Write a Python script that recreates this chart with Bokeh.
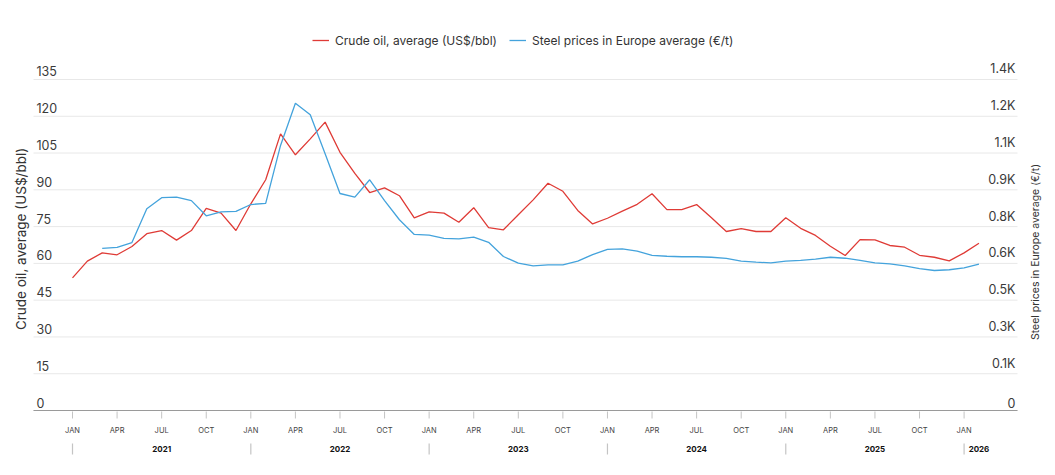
import math
from bokeh.plotting import figure
from bokeh.models import Range1d, Legend, LegendItem
from bokeh.core.properties import value
from bokeh.embed import file_html
from bokeh.resources import INLINE

# ---- data (monthly, Jan 2021 .. Feb 2026) ----
FIRST_YEAR = 2021
MONTHS = list(range(62))
OIL = [54.1, 60.9, 64.3, 63.5, 66.9, 72.1, 73.4, 69.5, 73.4, 82.4, 80.5, 73.4,
       84.3, 94.1, 112.8, 104.3, 110.8, 117.6, 105.3, 96.7, 88.9, 90.8, 87.6, 78.6,
       81.0, 80.5, 76.8, 82.7, 74.6, 73.7, 79.8, 85.9, 92.7, 89.4, 81.6, 76.1,
       78.4, 81.3, 84.1, 88.4, 81.9, 81.9, 84.0, 78.6, 73.0, 74.2, 73.0, 73.0,
       78.6, 74.3, 71.4, 67.0, 63.2, 69.7, 69.6, 67.3, 66.6, 63.3, 62.5, 61.0,
       64.3, 68.2]
NAN = float("nan")
STEEL = [NAN, NAN, 661, 665, 685, 823, 868, 870, 856, 794, 810, 812,
         840, 845, 1081, 1253, 1206, 1047, 885, 870, 941, 856, 778, 718,
         715, 702, 700, 707, 686, 628, 601, 590, 594, 594, 609, 636,
         657, 659, 650, 633, 629, 627, 627, 625, 620, 609, 605, 602,
         609, 612, 617, 625, 621, 612, 602, 598, 590, 579, 571, 574,
         582, 597]

LEFT_TICKS = [0, 15, 30, 45, 60, 75, 90, 105, 120, 135]
LEFT_LABELS = ["0", "15", "30", "45", "60", "75", "90", "105", "120", "135"]
RIGHT_TICKS = [0, 150, 300, 450, 600, 750, 900, 1050, 1200, 1350]
RIGHT_LABELS = ["0", "0.1K", "0.3K", "0.5K", "0.6K", "0.8K", "0.9K", "1.1K", "1.2K", "1.4K"]
QUARTER_NAMES = ["JAN", "APR", "JUL", "OCT"]
YEARS = [2021, 2022, 2023, 2024, 2025, 2026]

OIL_LABEL = "Crude oil, average (US$/bbl)"
STEEL_LABEL = "Steel prices in Europe average (€/t)"

RED = "#df3b36"
BLUE = "#44a3dc"
FONT = "Inter"
TEXT_COLOR = "#333333"

# ---- layout parameters (pixels) ----
W, H = 1055, 475
PX_MONTH = 14.86          # px per month
PX_UNIT = 2.452           # px per US$ on the left scale
X0_PX, Y0_PX = 72, 410    # pixel position of (month 0, value 0)
PLOT_L_PX, PLOT_R_PX = 33, 1017
STEEL_FACTOR = 10

X_START = -X0_PX / PX_MONTH
X_END = X_START + W / PX_MONTH
Y_START = -(H - Y0_PX) / PX_UNIT
Y_END = Y0_PX / PX_UNIT
FRAME_L = X_START + PLOT_L_PX / PX_MONTH
FRAME_R = X_START + PLOT_R_PX / PX_MONTH


def px_down(px):
    """convert a downward pixel distance below the baseline to data units"""
    return -px / PX_UNIT


p = figure(width=W, height=H,
           x_range=Range1d(X_START, X_END), y_range=Range1d(Y_START, Y_END),
           output_backend="svg", toolbar_location=None,
           x_axis_type=None, y_axis_type=None,
           min_border_left=0, min_border_right=0,
           min_border_top=0, min_border_bottom=0,
           outline_line_color=None)
p.extra_y_ranges = {"steel": Range1d(Y_START * STEEL_FACTOR, Y_END * STEEL_FACTOR)}

# horizontal gridlines
n = len(LEFT_TICKS)
p.segment(x0=[FRAME_L] * n, x1=[FRAME_R] * n, y0=LEFT_TICKS, y1=LEFT_TICKS,
          line_color="#e8e8e8", line_width=1)
# baseline
p.segment(x0=[FRAME_L], x1=[FRAME_R], y0=[0], y1=[0], line_color="#9a9a9a", line_width=1)

# y tick labels (above gridlines)
p.text(x=[FRAME_L] * n, y=LEFT_TICKS, text=LEFT_LABELS,
       x_offset=3, y_offset=-3, text_align="left", text_baseline="bottom",
       text_font=value(FONT), text_font_size="12.5px", text_color="#3a3a3a")
p.text(x=[FRAME_R] * len(RIGHT_TICKS), y=RIGHT_TICKS, text=RIGHT_LABELS,
       y_range_name="steel",
       x_offset=-2, y_offset=-3, text_align="right", text_baseline="bottom",
       text_font=value(FONT), text_font_size="12.5px", text_color="#3a3a3a")

# month ticks and labels
last = MONTHS[-1]
q_pos = [m for m in range(0, last + 1) if m % 3 == 0]
q_lab = [QUARTER_NAMES[(m % 12) // 3] for m in q_pos]
p.segment(x0=q_pos, x1=q_pos, y0=[px_down(1)] * len(q_pos), y1=[px_down(8)] * len(q_pos),
          line_color="#c4c4c4", line_width=1)
p.text(x=q_pos, y=[0] * len(q_pos), text=q_lab, y_offset=20,
       text_align="center", text_baseline="middle",
       text_font=value(FONT), text_font_size="7.5px", text_color="#444444")

# year separators and labels
jan_pos = [12 * (y - FIRST_YEAR) for y in YEARS]
year_pos = []
for y in YEARS:
    start = 12 * (y - FIRST_YEAR)
    end = min(start + 11, last) + 1
    year_pos.append((start + end) / 2)
p.segment(x0=jan_pos, x1=jan_pos, y0=[px_down(33)] * len(jan_pos),
          y1=[px_down(44)] * len(jan_pos), line_color="#c4c4c4", line_width=1.2)
p.text(x=year_pos, y=[0] * len(YEARS), text=[str(y) for y in YEARS], y_offset=38,
       text_align="center", text_baseline="middle",
       text_font=value(FONT), text_font_size="8px", text_font_style="bold",
       text_color="#111111")

# axis titles (vertical, bottom-to-top)
mid_left = (LEFT_TICKS[0] + LEFT_TICKS[-1]) / 2
p.text(x=[X_START], y=[mid_left], text=[OIL_LABEL], x_offset=20, y_offset=-6,
       angle=math.pi / 2, text_align="center", text_baseline="middle",
       text_font=value(FONT), text_font_size="13.5px", text_color=TEXT_COLOR)
p.text(x=[X_END], y=[mid_left], text=[STEEL_LABEL], x_offset=-20, y_offset=7,
       angle=math.pi / 2, text_align="center", text_baseline="middle",
       text_font=value(FONT), text_font_size="10.5px", text_color=TEXT_COLOR)

# lines
r_oil = p.line(MONTHS, OIL, line_color=RED, line_width=1.3)
r_steel = p.line(MONTHS, STEEL, y_range_name="steel", line_color=BLUE, line_width=1.3)

# legend (top, inside the full-canvas frame)
legend = Legend(items=[LegendItem(label=OIL_LABEL, renderers=[r_oil]),
                       LegendItem(label=STEEL_LABEL, renderers=[r_steel])],
                orientation="horizontal", location=(312, 425),
                border_line_color=None, background_fill_alpha=0,
                label_text_font=FONT, label_text_font_size="12px",
                label_text_color=TEXT_COLOR, glyph_width=17, glyph_height=20,
                label_height=20, label_standoff=6, spacing=12, padding=5, margin=0)
p.add_layout(legend, "center")

open("out.html", "w").write(file_html(p, INLINE))
